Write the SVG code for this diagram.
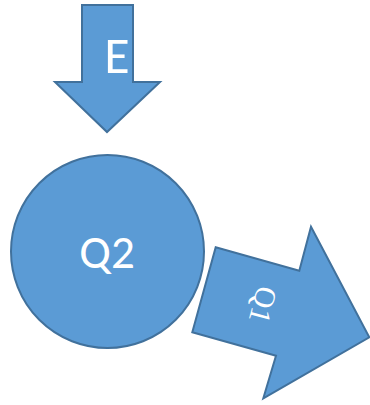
<svg xmlns="http://www.w3.org/2000/svg" width="370" height="405" viewBox="0 0 370 405">
  <style>
    .shape { fill: #5B9BD5; stroke: #41719C; stroke-width: 2; stroke-linejoin: miter; }
    .label { fill: #FFFFFF; font-family: "Carlito", "Liberation Sans", "DejaVu Sans", sans-serif; }
    .serif { fill: #FFFFFF; font-family: "Liberation Serif", "DejaVu Serif", serif; }
  </style>
  <rect width="370" height="405" fill="#FFFFFF"/>
  <g id="connectors">
    <g id="arrow-E">
      <polygon class="shape" points="82,5 133,5 133,82 160,82 107,132 55,82 82,82"/>
      <text class="label" x="117" y="73" font-size="52" text-anchor="middle">E</text>
    </g>
    <g id="arrow-Q1">
      <polygon class="shape" points="215.7,247.3 299.3,270.7 311,226.7 369.3,337.3 263.3,398.3 276,355.7 192.3,332.3"/>
      <text class="serif" x="0" y="0" font-size="30" text-anchor="middle" dominant-baseline="central" transform="translate(263.5,305) rotate(105)">Q1</text>
    </g>
  </g>
  <g id="node-Q2">
    <circle class="shape" cx="107.5" cy="251.5" r="96.5"/>
    <text class="label" x="107" y="268" font-size="47" text-anchor="middle">Q2</text>
  </g>
</svg>
